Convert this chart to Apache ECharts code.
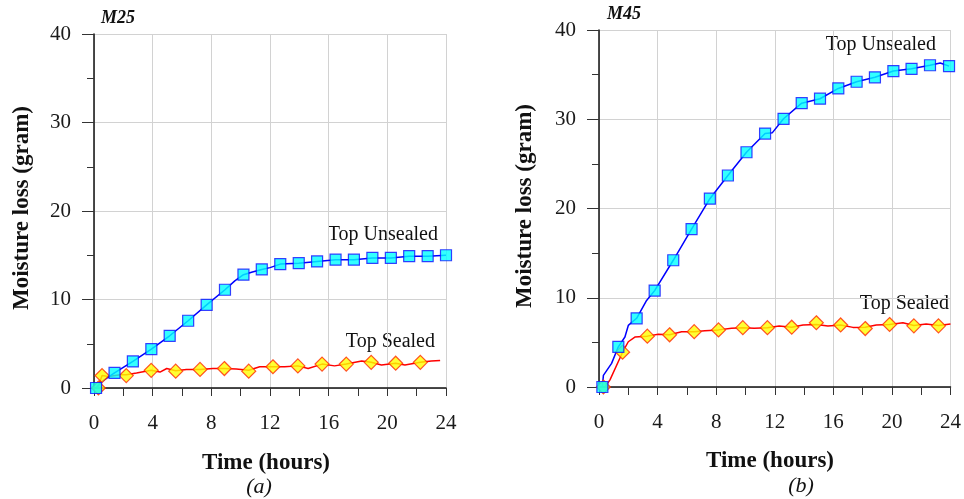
<!DOCTYPE html>
<html>
<head>
<meta charset="utf-8">
<script src="https://cdn.jsdelivr.net/npm/echarts@6/dist/echarts.min.js"></script>
<style>
html,body{margin:0;padding:0;background:#fff;}
#chart{width:964px;height:499px;}
</style>
</head>
<body>
<div id="chart"></div>
<script>
// ---- Data (hours, grams) ----
const xTicks = [0, 4, 8, 12, 16, 20, 24];
const yTicks = [0, 10, 20, 30, 40];

// M25 - Top Unsealed markers
const m25UnsealedHours = [0.14, 1.4, 2.65, 3.91, 5.16, 6.42, 7.68, 8.93, 10.19, 11.44, 12.7, 13.96, 15.21, 16.47, 17.72, 18.98, 20.24, 21.49, 22.75, 24.0];
const m25UnsealedVals  = [0, 1.7, 3.0, 4.4, 5.9, 7.6, 9.4, 11.1, 12.8, 13.4, 14.0, 14.1, 14.3, 14.5, 14.5, 14.7, 14.7, 14.9, 14.9, 15.0];
// M25 - Top Unsealed measured line
const m25UnsealedLineHours = [0.14, 0.5, 1.4, 2.65, 3.91, 5.16, 6.42, 7.68, 8.93, 9.6, 10.19, 10.8, 11.44, 12.0, 12.7, 13.96, 15.21, 16.47, 17.72, 18.98, 20.24, 21.49, 22.75, 24.0];
const m25UnsealedLineVals  = [0, 0.7, 1.7, 3.0, 4.4, 5.9, 7.6, 9.4, 11.1, 12.1, 12.8, 13.1, 13.4, 13.6, 14.0, 14.1, 14.3, 14.5, 14.5, 14.7, 14.7, 14.9, 14.9, 15.0];

// M25 - Top Sealed markers
const m25SealedHours = [0.3, 0.55, 2.2, 3.9, 5.57, 7.23, 8.89, 10.55, 12.2, 13.9, 15.55, 17.2, 18.9, 20.57, 22.25];
const m25SealedVals  = [0, 1.4, 1.4, 2.0, 1.9, 2.1, 2.2, 1.9, 2.4, 2.5, 2.7, 2.7, 2.9, 2.8, 2.9];
// M25 - Top Sealed measured line
const m25SealedLineHours = [0.25, 0.55, 1.0, 1.77, 2.2, 2.9, 3.9, 4.5, 4.96, 5.57, 6.3, 7.23, 8.1, 8.89, 9.7, 10.55, 11.3, 12.2, 13.0, 13.9, 14.6, 15.55, 16.4, 17.2, 18.25, 18.9, 19.6, 20.57, 21.2, 22.25, 23.0, 23.6];
const m25SealedLineVals  = [0, 1.4, 1.3, 1.5, 1.5, 1.7, 2.0, 1.8, 2.2, 1.95, 2.1, 2.1, 2.2, 2.2, 2.15, 2.0, 2.4, 2.4, 2.4, 2.5, 2.2, 2.7, 2.5, 2.7, 3.05, 2.9, 2.6, 2.8, 2.6, 2.9, 3.05, 3.1];

// M45 - Top Unsealed markers
const m45UnsealedHours = [0.23, 1.32, 2.57, 3.8, 5.07, 6.32, 7.57, 8.8, 10.07, 11.34, 12.6, 13.84, 15.09, 16.34, 17.59, 18.84, 20.1, 21.34, 22.6, 23.9];
const m45UnsealedVals  = [0, 4.5, 7.7, 10.8, 14.2, 17.7, 21.1, 23.7, 26.3, 28.4, 30.05, 31.8, 32.3, 33.45, 34.2, 34.7, 35.4, 35.65, 36.05, 35.95];
// M45 - Top Unsealed measured line
const m45UnsealedLineHours = [0.23, 0.3, 0.86, 1.32, 1.77, 2.0, 2.57, 3.25, 3.8, 5.07, 6.32, 7.57, 8.8, 10.07, 11.34, 11.84, 12.6, 13.84, 15.09, 16.34, 17.59, 18.84, 20.1, 21.34, 22.6, 23.3, 23.9];
const m45UnsealedLineVals  = [0, 1.3, 2.65, 4.5, 5.6, 6.9, 7.7, 9.7, 10.8, 14.2, 17.7, 21.1, 23.7, 26.3, 28.4, 28.5, 30.05, 31.8, 32.3, 33.45, 34.2, 34.7, 35.4, 35.65, 36.05, 36.3, 35.95];

// M45 - Top Sealed markers
const m45SealedHours = [0.3, 1.61, 3.3, 4.82, 6.5, 8.16, 9.82, 11.5, 13.16, 14.84, 16.5, 18.18, 19.84, 21.5, 23.18];
const m45SealedVals  = [0, 3.9, 5.7, 5.85, 6.2, 6.4, 6.65, 6.65, 6.7, 7.2, 6.95, 6.55, 7.0, 6.85, 6.85];
// M45 - Top Sealed measured line
const m45SealedLineHours = [0.41, 0.75, 1.61, 2.0, 2.45, 3.3, 4.05, 4.82, 5.64, 6.5, 7.23, 8.16, 9.05, 9.82, 10.6, 11.5, 12.3, 13.16, 13.93, 14.84, 15.63, 16.5, 17.34, 18.18, 18.93, 19.84, 20.75, 21.5, 22.34, 23.18, 24.0];
const m45SealedLineVals  = [0, 0.8, 3.9, 5.07, 5.6, 5.7, 5.9, 5.85, 6.2, 6.2, 6.3, 6.4, 6.57, 6.65, 6.57, 6.65, 6.83, 6.7, 6.94, 7.0, 6.83, 6.95, 6.68, 6.7, 6.94, 7.0, 7.2, 6.9, 7.05, 6.9, 7.05];

// ---- Build chart ----
const FONT = "'Liberation Serif','Times New Roman',serif";
const zip = (a, b) => a.map((v, i) => [v, b[i]]);

function xAxisFor(gi) {
  return {
    type: 'value', gridIndex: gi, min: xTicks[0], max: xTicks[xTicks.length - 1], interval: 4,
    axisLine: { show: true, onZero: false, lineStyle: { color: '#111', width: 1.5 } },
    axisTick: { show: true, length: 8, lineStyle: { color: '#333', width: 1 } },
    minorTick: { show: true, splitNumber: 2, length: 8, lineStyle: { color: '#333', width: 1 } },
    axisLabel: { fontFamily: FONT, fontSize: 21, color: '#1a1a1a', margin: 25 },
    splitLine: { show: true, lineStyle: { color: '#d2d2d2', width: 1 } }
  };
}
function yAxisFor(gi) {
  return {
    type: 'value', gridIndex: gi, min: yTicks[0], max: yTicks[yTicks.length - 1], interval: 10,
    axisLine: { show: true, onZero: false, lineStyle: { color: '#111', width: 1.5 } },
    axisTick: { show: true, length: 12, lineStyle: { color: '#333', width: 1 } },
    minorTick: { show: true, splitNumber: 2, length: 7, lineStyle: { color: '#333', width: 1 } },
    axisLabel: { fontFamily: FONT, fontSize: 21, color: '#1a1a1a', margin: 23 },
    splitLine: { show: true, lineStyle: { color: '#d2d2d2', width: 1 } }
  };
}
function lineSeries(gi, h, v, color) {
  return { type: 'line', xAxisIndex: gi, yAxisIndex: gi, data: zip(h, v), showSymbol: false, symbol: 'none',
    lineStyle: { color: color, width: 1.5 }, animation: false, z: 2 };
}
function markerSeries(gi, h, v, kind) {
  const sq = kind === 'square';
  return { type: 'scatter', xAxisIndex: gi, yAxisIndex: gi, data: zip(h, v),
    symbol: sq ? 'rect' : 'diamond', symbolSize: sq ? 11 : 14,
    itemStyle: sq ? { color: '#00FFFF', borderColor: '#1010FF', borderWidth: 1.2 }
                  : { color: '#FFFF00', borderColor: '#FF2a00', borderWidth: 1.2 },
    animation: false, z: sq ? 4 : 3 };
}

function txt(text, x, y, opts) {
  return Object.assign({ type: 'text', x: x, y: y, style: Object.assign({
    text: text, fill: '#111', font: '20px ' + FONT, textAlign: 'center', textVerticalAlign: 'middle'
  }, opts.style || {}) }, opts.extra || {});
}

const chart = echarts.init(document.getElementById('chart'), null, { renderer: 'canvas' });
chart.setOption({
  backgroundColor: '#fff',
  animation: false,
  grid: [
    { left: 94, right: 518, top: 34, bottom: 111 },
    { left: 599, right: 13, top: 30, bottom: 112 }
  ],
  xAxis: [xAxisFor(0), xAxisFor(1)],
  yAxis: [yAxisFor(0), yAxisFor(1)],
  series: [
    lineSeries(0, m25SealedLineHours, m25SealedLineVals, '#FF0000'),
    markerSeries(0, m25SealedHours, m25SealedVals, 'diamond'),
    lineSeries(0, m25UnsealedLineHours, m25UnsealedLineVals, '#0000FF'),
    markerSeries(0, m25UnsealedHours, m25UnsealedVals, 'square'),
    lineSeries(1, m45SealedLineHours, m45SealedLineVals, '#FF0000'),
    markerSeries(1, m45SealedHours, m45SealedVals, 'diamond'),
    lineSeries(1, m45UnsealedLineHours, m45UnsealedLineVals, '#0000FF'),
    markerSeries(1, m45UnsealedHours, m45UnsealedVals, 'square')
  ],
  graphic: [
    txt('M25', 118, 18, { style: { font: 'italic bold 18px ' + FONT } }),
    txt('M45', 624, 14, { style: { font: 'italic bold 18px ' + FONT } }),
    txt('Moisture loss (gram)', 22, 208, { style: { font: 'bold 23px ' + FONT }, extra: { rotation: Math.PI / 2 } }),
    txt('Moisture loss (gram)', 525, 206, { style: { font: 'bold 23px ' + FONT }, extra: { rotation: Math.PI / 2 } }),
    txt('Time (hours)', 266, 463, { style: { font: 'bold 23px ' + FONT } }),
    txt('Time (hours)', 770, 461, { style: { font: 'bold 23px ' + FONT } }),
    txt('(a)', 259, 487, { style: { font: 'italic 22px ' + FONT } }),
    txt('(b)', 801, 486, { style: { font: 'italic 22px ' + FONT } }),
    txt('Top Unsealed', 438, 235, { style: { textAlign: 'right' } }),
    txt('Top Sealed', 435, 342, { style: { textAlign: 'right' } }),
    txt('Top Unsealed', 936, 45, { style: { textAlign: 'right' } }),
    txt('Top Sealed', 949, 304, { style: { textAlign: 'right' } })
  ]
});
</script>
</body>
</html>
